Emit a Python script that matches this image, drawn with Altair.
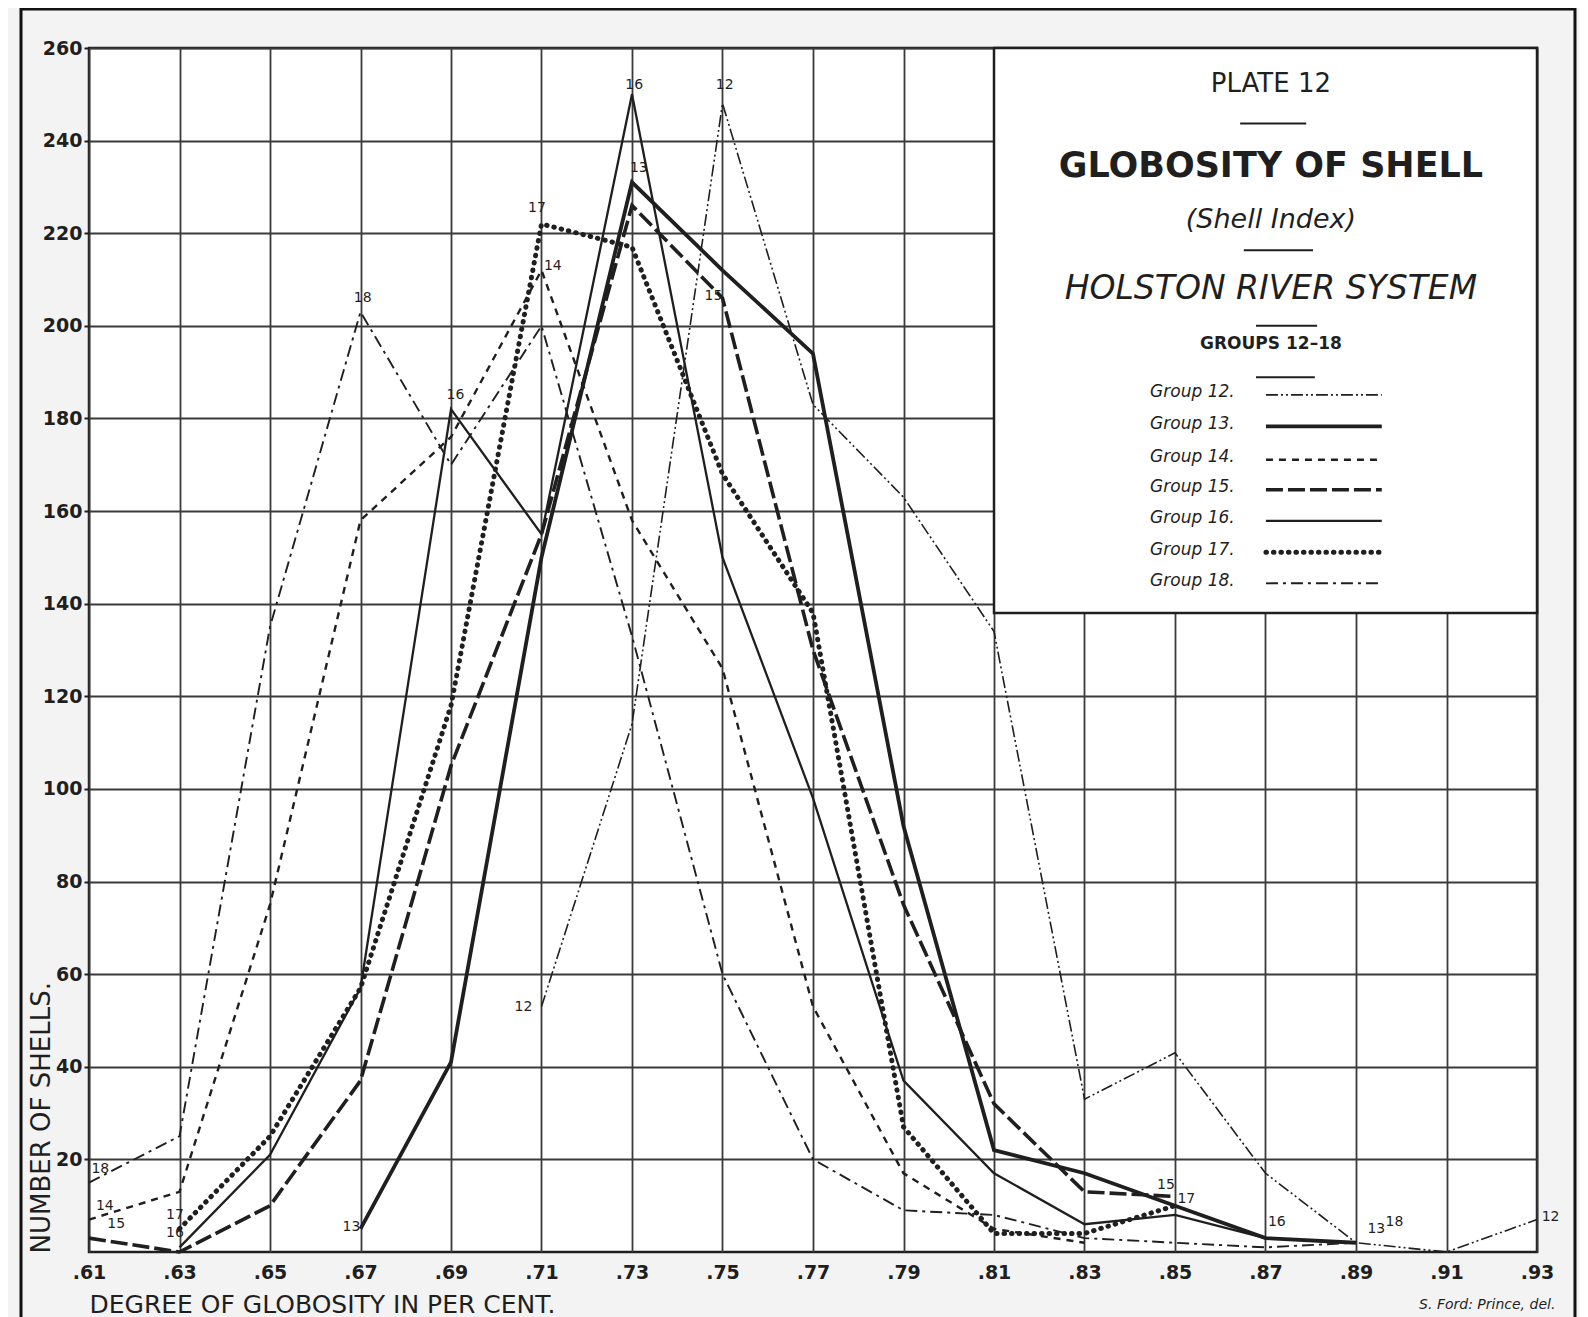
import altair as alt
import pandas as pd

# ---------------- data read from the plate ----------------
X_TICKS = [0.61, 0.63, 0.65, 0.67, 0.69, 0.71, 0.73, 0.75, 0.77, 0.79,
           0.81, 0.83, 0.85, 0.87, 0.89, 0.91, 0.93]
Y_TICKS = [20, 40, 60, 80, 100, 120, 140, 160, 180, 200, 220, 240, 260]

G12_X = [0.71, 0.73, 0.75, 0.77, 0.79, 0.81, 0.83, 0.85, 0.87, 0.89, 0.91, 0.93]
G12_Y = [53, 114, 248, 183, 163, 134, 33, 43, 17, 2, 0, 7]

G13_X = [0.67, 0.69, 0.71, 0.73, 0.75, 0.77, 0.79, 0.81, 0.83, 0.85, 0.87, 0.89]
G13_Y = [5, 41, 150, 231, 212, 194, 92, 22, 17, 10, 3, 2]

G14_X = [0.61, 0.63, 0.65, 0.67, 0.69, 0.71, 0.73, 0.75, 0.77, 0.79, 0.81, 0.83]
G14_Y = [7, 13, 75, 158, 176, 212, 158, 126, 53, 17, 5, 2]

G15_X = [0.61, 0.63, 0.65, 0.67, 0.69, 0.71, 0.73, 0.75, 0.77, 0.79, 0.81, 0.83, 0.85]
G15_Y = [3, 0, 10, 37, 105, 155, 226, 206, 130, 75, 32, 13, 12]

G16_X = [0.63, 0.65, 0.67, 0.69, 0.71, 0.73, 0.75, 0.77, 0.79, 0.81, 0.83, 0.85, 0.87]
G16_Y = [1, 21, 57, 182, 155, 250, 150, 98, 37, 17, 6, 8, 3]

G17_X = [0.63, 0.65, 0.67, 0.69, 0.71, 0.73, 0.75, 0.77, 0.79, 0.81, 0.83, 0.85]
G17_Y = [5, 25, 57, 118, 222, 217, 168, 138, 27, 4, 4, 10]

G18_X = [0.61, 0.63, 0.65, 0.67, 0.69, 0.71, 0.73, 0.75, 0.77, 0.79, 0.81, 0.83, 0.85, 0.87, 0.89]
G18_Y = [15, 25, 135, 203, 170, 200, 133, 60, 20, 9, 8, 3, 2, 1, 2]

GROUP_IDS = ["12", "13", "14", "15", "16", "17", "18"]
SERIES = {
    "12": (G12_X, G12_Y), "13": (G13_X, G13_Y), "14": (G14_X, G14_Y),
    "15": (G15_X, G15_Y), "16": (G16_X, G16_Y), "17": (G17_X, G17_Y),
    "18": (G18_X, G18_Y),
}
LEGEND_LABELS = ["Group 12.", "Group 13.", "Group 14.", "Group 15.",
                 "Group 16.", "Group 17.", "Group 18."]

# point labels written on the curves
PT_TEXT = ["18", "14", "15", "17", "16", "13", "18", "16", "17", "14",
           "16", "13", "12", "15", "12", "15", "17", "16", "13", "18", "12"]
PT_X = [0.6125, 0.6135, 0.6160, 0.6290, 0.6290, 0.6680, 0.6705, 0.6910, 0.7090, 0.7125,
        0.7305, 0.7315, 0.7505, 0.7480, 0.7060, 0.8480, 0.8525, 0.8725, 0.8945, 0.8985, 0.9330]
PT_Y = [18, 10, 6, 8, 4, 5.5, 206, 185, 225.5, 213,
        252, 234, 252, 206.5, 53, 14.5, 11.5, 6.5, 5, 6.5, 7.5]

# ---------------- styling ----------------
INK = "#1f1f1f"
FONT = "DejaVu Sans"
STYLE = {
    "12": dict(strokeDash=[12, 3, 2, 3, 2, 3], strokeWidth=1.6),
    "13": dict(strokeWidth=3.8),
    "14": dict(strokeDash=[7, 6], strokeWidth=2.4),
    "15": dict(strokeDash=[17, 5], strokeWidth=3.6),
    "16": dict(strokeWidth=2.3),
    "17": dict(strokeDash=[0.5, 7], strokeWidth=5, strokeCap="round"),
    "18": dict(strokeDash=[12, 5, 3, 5], strokeWidth=1.9),
}

# layout (data coordinates of the title panel and its key)
BOX = dict(x=0.81, x2=0.93, y=138, y2=260)
TEXT_X = 0.8712
KEY_TEXT_X = 0.8445
KEY_LINE_X = [0.8701, 0.8957]
KEY_Y = [185.7, 178.9, 171.7, 165.2, 158.5, 151.7, 145.0]

xscale = alt.Scale(domain=[0.61, 0.93], nice=False, zero=False)
yscale = alt.Scale(domain=[0, 260], nice=False, zero=True)

xaxis = alt.Axis(
    values=X_TICKS,
    labelExpr="replace(format(datum.value, '.2f'), '0.', '.')",
    labelFont=FONT, labelFontSize=19, labelFontWeight="bold", labelColor=INK,
    labelPadding=11, labelFlush=False, tickSize=0, domain=False,
    grid=True, gridColor="#3a3a3a", gridWidth=1.8,
    title="DEGREE OF GLOBOSITY IN PER CENT.",
    titleFont=FONT, titleFontSize=25, titleFontWeight="normal", titleColor=INK,
    titleAnchor="start", titleAlign="left", titleX=0, titleY=60,
    titleBaseline="alphabetic", zindex=0,
)
yaxis = alt.Axis(
    values=Y_TICKS,
    labelFont=FONT, labelFontSize=19, labelFontWeight="bold", labelColor=INK,
    labelPadding=2, tickSize=5, tickWidth=2, tickColor=INK, domain=False,
    grid=True, gridColor="#3a3a3a", gridWidth=1.8,
    title="NUMBER OF SHELLS.",
    titleFont=FONT, titleFontSize=26, titleFontWeight="normal", titleColor=INK,
    titleAngle=270, titleAlign="left", titleBaseline="middle",
    titleX=-48, titleY=1205, zindex=0,
)


def X(field="x"):
    return alt.X(f"{field}:Q", scale=xscale, axis=xaxis)


def Y(field="y"):
    return alt.Y(f"{field}:Q", scale=yscale, axis=yaxis)


layers = []

# outer frame of the plate (decoration)
frame = alt.Chart(pd.DataFrame({"a": [0]})).mark_rect(
    filled=False, stroke="#111", strokeWidth=3
).encode(x=alt.value(-68), x2=alt.value(1486), y=alt.value(-39), y2=alt.value(1300))
layers.append(frame)

# title panel
box_df = pd.DataFrame({"x": [BOX["x"]], "x2": [BOX["x2"]], "y": [BOX["y"]], "y2": [BOX["y2"]]})
layers.append(
    alt.Chart(box_df).mark_rect(fill="white", stroke=INK, strokeWidth=2.5)
    .encode(x=X(), x2="x2:Q", y=Y(), y2="y2:Q")
)

# curves + key samples, one layer per group
for gid, key_y in zip(GROUP_IDS, KEY_Y):
    xs, ys = SERIES[gid]
    df = pd.DataFrame({"x": xs, "y": ys, "part": "curve"})
    key = pd.DataFrame({"x": KEY_LINE_X, "y": [key_y - 0.6] * 2, "part": "key"})
    df = pd.concat([df, key], ignore_index=True)
    layers.append(
        alt.Chart(df).mark_line(color=INK, strokeJoin="miter", **STYLE[gid])
        .encode(x=X(), y=Y(), detail="part:N", order="x:Q")
    )

# number labels on the curves
pt_df = pd.DataFrame({"x": PT_X, "y": PT_Y, "t": PT_TEXT})
layers.append(
    alt.Chart(pt_df).mark_text(font=FONT, fontSize=14, color=INK)
    .encode(x=X(), y=Y(), text="t:N")
)


# panel texts
def panel_text(texts, ys, size, weight="normal", style="normal", xpos=TEXT_X, align="center"):
    df = pd.DataFrame({"x": [xpos] * len(texts), "y": ys, "t": texts})
    return alt.Chart(df).mark_text(
        font=FONT, fontSize=size, fontWeight=weight, fontStyle=style,
        color=INK, align=align, baseline="middle"
    ).encode(x=X(), y=Y(), text="t:N")


layers.append(panel_text(["PLATE 12"], [252.2], 26))
layers.append(panel_text(["GLOBOSITY OF SHELL"], [234.6], 35, weight="bold"))
layers.append(panel_text(["(Shell Index)"], [222.8], 27, style="italic"))
layers.append(panel_text(["HOLSTON RIVER SYSTEM"], [208.0], 33, style="italic"))
layers.append(panel_text(["GROUPS 12–18"], [196.1], 17, weight="bold"))
layers.append(panel_text(LEGEND_LABELS, KEY_Y, 17, style="italic", xpos=KEY_TEXT_X, align="left"))

rule_df = pd.DataFrame({
    "x": [0.8644, 0.8652, 0.8679, 0.8679],
    "x2": [0.8790, 0.8805, 0.8814, 0.8809],
    "y": [243.7, 216.3, 200.0, 188.9],
})
layers.append(
    alt.Chart(rule_df).mark_rule(color=INK, strokeWidth=2)
    .encode(x=X(), x2="x2:Q", y=Y())
)

# draughtsman's signature
sig_df = pd.DataFrame({"x": [0.9190], "y": [-11.5], "t": ["S. Ford: Prince, del."]})
layers.append(
    alt.Chart(sig_df).mark_text(font=FONT, fontSize=14, fontStyle="italic", color=INK)
    .encode(x=X(), y=Y(), text="t:N")
)

chart = alt.layer(*layers).properties(
    width=1448, height=1204,
    autosize=alt.AutoSizeParams(type="none"),
    padding={"left": 81, "top": 40, "right": 43, "bottom": 65},
    background="#f3f3f3",
).configure_view(stroke=INK, strokeWidth=2.5, fill="white")

chart.save("out.html", embed_options={"renderer": "svg", "actions": False})
